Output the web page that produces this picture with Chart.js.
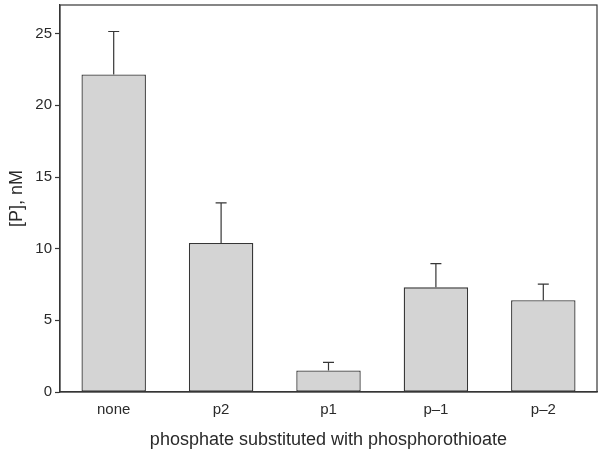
<!DOCTYPE html>
<html>
<head>
<meta charset="utf-8">
<script src="https://cdn.jsdelivr.net/npm/chart.js@4"></script>
<style>
  html, body { margin: 0; padding: 0; background: #fff; }
  #wrap { width: 604px; height: 456px; }
</style>
</head>
<body>
<div id="wrap"><canvas id="chart" width="604" height="456"></canvas></div>
<script>
// Data
const categories = ['none', 'p2', 'p1', 'p\u20131', 'p\u20132'];
const concentration = [22.15, 10.4, 1.5, 7.3, 6.4];
const errorUpper = [3.0, 2.8, 0.57, 1.65, 1.12];
const yTicks = [0, 5, 10, 15, 20, 25];

const axisColor = '#363636';
const textColor = '#2a2a2a';
const fontFamily = '"Liberation Sans", Arial, sans-serif';

// Draws the one-sided error bars and the frame around the plot
const extras = {
    id: 'extras',
    afterDatasetsDraw(chart) {
        const ctx = chart.ctx;
        const meta = chart.getDatasetMeta(0);
        const y = chart.scales.y;
        ctx.save();
        ctx.strokeStyle = axisColor;
        ctx.lineWidth = 1.2;
        meta.data.forEach((bar, i) => {
            const top = y.getPixelForValue(concentration[i] + errorUpper[i]);
            const base = y.getPixelForValue(concentration[i]);
            ctx.beginPath();
            ctx.moveTo(bar.x, base);
            ctx.lineTo(bar.x, top);
            ctx.moveTo(bar.x - 5.5, top);
            ctx.lineTo(bar.x + 5.5, top);
            ctx.stroke();
        });
        const a = chart.chartArea;
        ctx.strokeRect(a.left, a.top, a.right - a.left, a.bottom - a.top);
        ctx.restore();
    }
};

new Chart(document.getElementById('chart'), {
    type: 'bar',
    data: {
        labels: categories,
        datasets: [{
            data: concentration,
            backgroundColor: '#d4d4d4',
            borderColor: axisColor,
            borderWidth: 1.3,
            borderSkipped: false,
            barPercentage: 0.6,
            categoryPercentage: 1.0
        }]
    },
    options: {
        responsive: false,
        animation: false,
        layout: { padding: { left: 0, top: 5, right: 7, bottom: 0 } },
        plugins: {
            legend: { display: false },
            tooltip: { enabled: false }
        },
        scales: {
            x: {
                grid: { display: false },
                border: { display: true, color: axisColor, width: 1.2 },
                ticks: { color: textColor, font: { family: fontFamily, size: 15 }, padding: 1 },
                title: {
                    display: true,
                    text: 'phosphate substituted with phosphorothioate',
                    color: textColor,
                    font: { family: fontFamily, size: 18 },
                    padding: { top: 0, bottom: 5 }
                },
                afterFit(scale) {
                    scale.height = 64;
                    scale.paddingLeft = 0;
                    scale.paddingRight = 0;
                }
            },
            y: {
                min: 0,
                max: 27,
                afterBuildTicks(scale) {
                    scale.ticks = yTicks.map(v => ({ value: v }));
                },
                grid: {
                    drawOnChartArea: false,
                    drawTicks: true,
                    tickLength: 5,
                    tickColor: axisColor,
                    tickWidth: 1.2
                },
                border: { display: true, color: axisColor, width: 1.2 },
                ticks: { color: textColor, font: { family: fontFamily, size: 15 }, padding: 3 },
                title: {
                    display: true,
                    text: '[P], nM',
                    color: textColor,
                    font: { family: fontFamily, size: 18 },
                    padding: { top: 6, bottom: 0 }
                },
                afterFit(scale) {
                    scale.width = 60;
                    scale.paddingTop = 0;
                    scale.paddingBottom = 0;
                }
            }
        }
    },
    plugins: [extras]
});
</script>
</body>
</html>
